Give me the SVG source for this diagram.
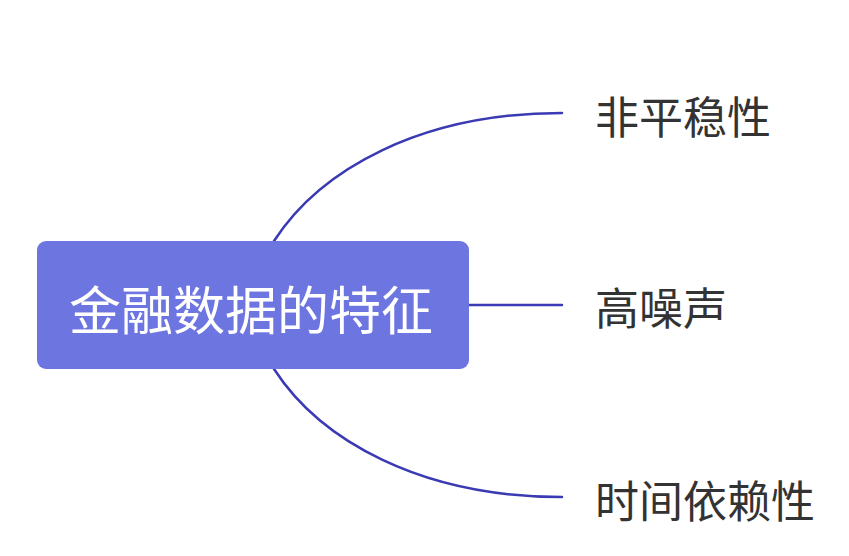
<svg xmlns="http://www.w3.org/2000/svg" width="849" height="556" viewBox="0 0 849 556">
<style>
.edge{fill:none;stroke:#3a3ab4;stroke-width:2.5;stroke-linecap:round}
.root{fill:#6d75e0}
.rt{font-family:"Noto Sans CJK SC","Noto Sans",sans-serif;font-size:52px;fill:#ffffff;text-anchor:middle;dominant-baseline:central}
.lt{font-family:"Noto Sans CJK SC","Noto Sans",sans-serif;font-size:44px;fill:#333333;dominant-baseline:central}
</style>
<rect width="849" height="556" fill="#ffffff"/>
<g id="connectors">
<path class="edge" d="M274,241 C320,170 420,113 562,113"/>
<path class="edge" d="M469,305 L562,305"/>
<path class="edge" d="M274,369 C320,440 420,497 562,497"/>
</g>
<g id="root">
<rect class="root" x="37" y="241" width="432" height="128" rx="9"/>
<text class="rt" x="251" y="307">金融数据的特征</text>
</g>
<g id="n1"><text class="lt" x="595" y="115">非平稳性</text></g>
<g id="n2"><text class="lt" x="595" y="306">高噪声</text></g>
<g id="n3"><text class="lt" x="595" y="499">时间依赖性</text></g>
</svg>
